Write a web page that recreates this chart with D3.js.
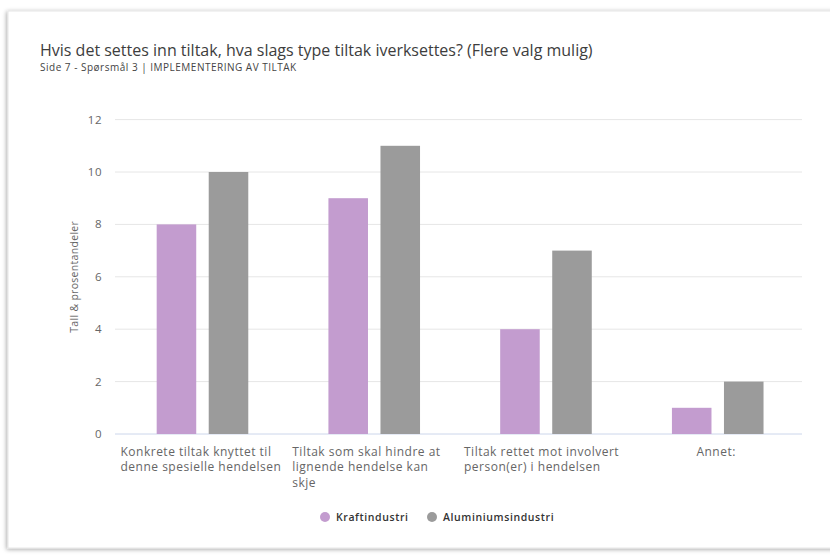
<!DOCTYPE html>
<html>
<head>
<meta charset="utf-8">
<script src="https://cdn.jsdelivr.net/npm/d3@7"></script>
<style>
  body { margin: 0; background: #fff; font-family: "Open Sans", sans-serif; }
</style>
</head>
<body>
<div id="chart"></div>
<script>
var categories = [
    "Konkrete tiltak knyttet til denne spesielle hendelsen",
    "Tiltak som skal hindre at lignende hendelse kan skje",
    "Tiltak rettet mot involvert person(er) i hendelsen",
    "Annet:"
]
var seriesNames = ["Kraftindustri", "Aluminiumsindustri"]
var kraftValues = [8, 9, 4, 1]
var aluValues = [10, 11, 7, 2]
var yTicks = [0, 2, 4, 6, 8, 10, 12]
var colors = ["#c39ccf", "#9b9b9b"]

var width = 830, height = 556
var margin = { left: 115, right: 28, top: 119.6, bottom: 122 }

var svg = d3.select("#chart").append("svg")
    .attr("width", width)
    .attr("height", height)

// card with soft shadow
var defs = svg.append("defs")
var filt = defs.append("filter").attr("id", "shadow").attr("x", "-5%").attr("y", "-5%").attr("width", "110%").attr("height", "110%")
filt.append("feDropShadow").attr("dx", -1).attr("dy", 1).attr("stdDeviation", 2).attr("flood-color", "#000").attr("flood-opacity", 0.35)

svg.append("rect")
    .attr("x", 8).attr("y", 11)
    .attr("width", 840).attr("height", 537)
    .attr("fill", "#fff")
    .attr("stroke", "#e6e6e6")
    .attr("filter", "url(#shadow)")

svg.append("text")
    .attr("x", 40).attr("y", 56)
    .attr("fill", "#3d3d3d")
    .style("font-size", "16px")
    .text("Hvis det settes inn tiltak, hva slags type tiltak iverksettes? (Flere valg mulig)")

svg.append("text")
    .attr("x", 40).attr("y", 71)
    .attr("fill", "#444")
    .style("font-size", "10px")
    .style("letter-spacing", "0.5px")
    .text("Side 7 - Spørsmål 3 | IMPLEMENTERING AV TILTAK")

var x = d3.scaleBand()
    .domain(categories)
    .range([margin.left, width - margin.right])

var xSeries = d3.scaleBand()
    .domain(seriesNames)
    .range([0, x.bandwidth()])
    .paddingInner(0.24)
    .paddingOuter(0.77)
    .align(0.52)

var y = d3.scaleLinear()
    .domain([0, 12])
    .range([434, margin.top])

// grid
svg.append("g")
    .selectAll("line")
    .data(yTicks)
    .enter()
    .append("line")
    .attr("x1", margin.left)
    .attr("x2", width - margin.right)
    .attr("y1", d => y(d))
    .attr("y2", d => y(d))
    .attr("stroke", d => d === 0 ? "#ccd6eb" : "#e6e6e6")
    .attr("stroke-width", 1)

svg.append("g")
    .selectAll("text")
    .data(yTicks)
    .enter()
    .append("text")
    .attr("x", 102)
    .attr("y", d => y(d) + 4)
    .attr("text-anchor", "end")
    .attr("fill", "#666")
    .style("font-size", "11.5px")
    .style("letter-spacing", "0.5px")
    .text(d => d)

svg.append("text")
    .attr("transform", "translate(78," + y(6) + ") rotate(-90)")
    .attr("text-anchor", "middle")
    .attr("fill", "#666")
    .style("font-size", "10.5px")
    .style("letter-spacing", "0.3px")
    .text("Tall & prosentandeler")

// bars
var data = categories.map((c, i) => ({ cat: c, values: [kraftValues[i], aluValues[i]] }))

var groups = svg.selectAll(".grp")
    .data(data)
    .enter()
    .append("g")
    .attr("transform", d => "translate(" + x(d.cat) + ",0)")

groups.selectAll("rect")
    .data(d => d.values.map((v, j) => ({ name: seriesNames[j], v: v, j: j })))
    .enter()
    .append("rect")
    .attr("x", d => xSeries(d.name))
    .attr("y", d => y(d.v))
    .attr("width", xSeries.bandwidth())
    .attr("height", d => y(0) - y(d.v))
    .attr("fill", d => colors[d.j])

// wrapped category labels
var labelWidth = 162
groups.each(function (d) {
    var g = d3.select(this)
    var t = g.append("text")
        .attr("fill", "#666")
        .style("font-size", "12px")
        .style("letter-spacing", "0.5px")
    var words = d.cat.split(" ")
    var lines = [], line = []
    var probe = t.append("tspan")
    words.forEach(w => {
        line.push(w)
        probe.text(line.join(" "))
        if (probe.node().getComputedTextLength() > labelWidth && line.length > 1) {
            line.pop()
            lines.push(line.join(" "))
            line = [w]
        }
    })
    lines.push(line.join(" "))
    probe.remove()
    var spans = lines.map((l, i) => t.append("tspan").attr("dy", i === 0 ? 0 : 15.3).text(l))
    var maxW = d3.max(spans, s => s.node().getComputedTextLength())
    var left = lines.length > 1 ? 5.5 : x.bandwidth() / 2 - maxW / 2
    spans.forEach(s => s.attr("x", left))
    t.attr("y", 456)
})

// legend
var legend = svg.append("g")
var legendX = [325, 432]
seriesNames.forEach((name, i) => {
    legend.append("circle")
        .attr("cx", legendX[i])
        .attr("cy", 517)
        .attr("r", 5)
        .attr("fill", colors[i])
    legend.append("text")
        .attr("x", legendX[i] + 11)
        .attr("y", 521)
        .attr("fill", "#333")
        .style("font-size", "10.5px")
        .style("font-weight", "600")
        .style("letter-spacing", "0.6px")
        .text(name)
})
</script>
</body>
</html>
